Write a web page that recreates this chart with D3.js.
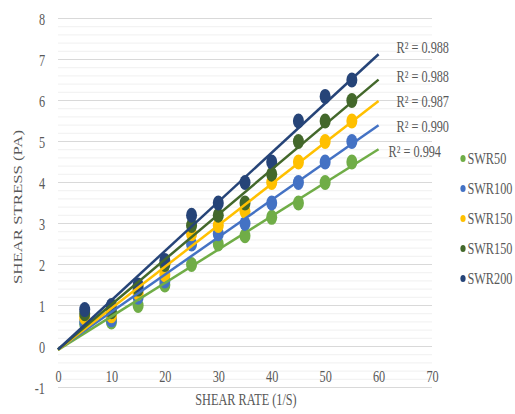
<!DOCTYPE html>
<html>
<head>
<meta charset="utf-8">
<script src="https://cdn.jsdelivr.net/npm/d3@7"></script>
<style>
html,body{margin:0;padding:0;background:#fff;}
svg{display:block;}
</style>
</head>
<body>
<svg id="chart" width="515" height="414"></svg>
<script>
// ---- data ----
const shearRate = [5, 10, 15, 20, 25, 30, 35, 40, 45, 50, 55];
const seriesNames = ["SWR50", "SWR100", "SWR150", "SWR150", "SWR200"];
const swr50   = [0.55, 0.60, 1.00, 1.50, 2.00, 2.50, 2.70, 3.15, 3.50, 4.00, 4.50];
const swr100  = [0.60, 0.65, 1.20, 1.60, 2.50, 2.75, 3.00, 3.50, 4.00, 4.50, 5.00];
const swr150a = [0.70, 0.75, 1.30, 1.75, 2.75, 2.95, 3.30, 4.00, 4.50, 5.00, 5.50];
const swr150b = [0.80, 0.85, 1.40, 2.00, 2.95, 3.20, 3.50, 4.20, 5.00, 5.50, 6.00];
const swr200  = [0.90, 1.00, 1.50, 2.10, 3.20, 3.50, 4.00, 4.50, 5.50, 6.10, 6.50];
const r2Labels = ["R\u00B2 = 0.994", "R\u00B2 = 0.990", "R\u00B2 = 0.987", "R\u00B2 = 0.988", "R\u00B2 = 0.988"];
const trendRange = [0, 60];
const xTicks = [0, 10, 20, 30, 40, 50, 60, 70];
const yTicks = [-1, 0, 1, 2, 3, 4, 5, 6, 7, 8];
const xTitle = "SHEAR RATE (1/S)";
const yTitle = "SHEAR STRESS (PA)";

// ---- styles ----
const colors = ["#70AD47", "#4472C4", "#FFC000", "#43682B", "#264478"];
const r2Offsets = [[10, 2], [18, 1], [18, 0], [18, -3], [18, -7]];
const SX = 0.73; // horizontal squeeze of the picture
const FS = 16.8;
const FONT = "'Liberation Serif', 'Times New Roman', serif";
const TXT = "#595959";

const allSeries = [swr50, swr100, swr150a, swr150b, swr200];

const svg = d3.select("#chart");
const x = d3.scaleLinear().domain([0, 70]).range([58, 432]);
const y = d3.scaleLinear().domain([-1, 8]).range([387.5, 18.5]);

function label(g, px, py, str, anchor, size) {
  return g.append("text")
    .attr("transform", `translate(${px},${py}) scale(${SX},1)`)
    .attr("text-anchor", anchor || "start")
    .attr("dy", "0.35em")
    .attr("font-family", FONT)
    .style("font-family", FONT)
    .style("fill", TXT)
    .style("font-size", (size || FS) + "px")
    .text(str);
}

// gridlines
const minor = d3.range(-1, 8.001, 0.2).filter(v => Math.abs(v - Math.round(v)) > 1e-6);
svg.append("g").selectAll("line").data(minor).join("line")
  .attr("x1", x(0)).attr("x2", x(70))
  .attr("y1", d => y(d)).attr("y2", d => y(d))
  .attr("stroke", "#f0f0f0").attr("stroke-width", 1);
svg.append("g").selectAll("line").data(yTicks).join("line")
  .attr("x1", x(0)).attr("x2", x(70))
  .attr("y1", d => y(d)).attr("y2", d => y(d))
  .attr("stroke", "#d9d9d9").attr("stroke-width", 1);

// axis tick labels (via d3 axes for positions)
const yAxis = d3.axisLeft(y).tickValues(yTicks).tickSize(0).tickFormat(d3.format("d"));
const yg = svg.append("g").attr("transform", `translate(${x(0) - 13},0)`).call(yAxis);
yg.select(".domain").remove();
yg.selectAll("text").remove();
yg.selectAll(".tick").each(function(d) {
  label(d3.select(this), 0, 0, String(d), "end");
});

const xAxis = d3.axisBottom(x).tickValues(xTicks).tickSize(0);
const xg = svg.append("g").attr("transform", `translate(0,${y(0)})`).call(xAxis);
xg.select(".domain").remove();
xg.selectAll("text").remove();
xg.selectAll(".tick").each(function(d) {
  label(d3.select(this), 0, 30, String(d), "middle");
});

// axis titles
label(svg, (x(0) + x(70)) / 2 + 1, 399, xTitle, "middle");
svg.append("text")
  .attr("transform", `translate(18,${207}) rotate(-90) scale(1,${SX})`)
  .attr("text-anchor", "middle").attr("dy", "0.35em")
  .attr("font-family", FONT)
  .style("font-family", FONT).style("fill", TXT)
  .style("font-size", FS + "px").text(yTitle);

// markers
allSeries.forEach((vals, i) => {
  svg.append("g").selectAll("ellipse").data(vals).join("ellipse")
    .attr("cx", (d, j) => x(shearRate[j]))
    .attr("cy", d => y(d))
    .attr("rx", 5.5).attr("ry", 7.5)
    .attr("fill", colors[i]);
});

// linear trendlines (least squares)
function fit(vals) {
  const mx = d3.mean(shearRate), my = d3.mean(vals);
  let sxy = 0, sxx = 0;
  shearRate.forEach((xv, j) => { sxy += (xv - mx) * (vals[j] - my); sxx += (xv - mx) ** 2; });
  const m = sxy / sxx;
  return { m, b: my - m * mx };
}
const line = d3.line().x(d => x(d[0])).y(d => y(d[1]));
allSeries.forEach((vals, i) => {
  const f = fit(vals);
  const pts = trendRange.map(t => [t, f.b + f.m * t]);
  svg.append("path").attr("d", line(pts))
    .attr("fill", "none").attr("stroke", colors[i]).attr("stroke-width", 2.5);
  const end = pts[1];
  label(svg, x(end[0]) + r2Offsets[i][0], y(end[1]) + r2Offsets[i][1], r2Labels[i], "start");
});

// legend
const lg = svg.append("g");
seriesNames.forEach((n, i) => {
  const ly = 158.5 + i * 30;
  lg.append("ellipse").attr("cx", 463).attr("cy", ly).attr("rx", 2.6).attr("ry", 3.5).attr("fill", colors[i]);
  label(lg, 467.5, ly, n, "start");
});
</script>
</body>
</html>
